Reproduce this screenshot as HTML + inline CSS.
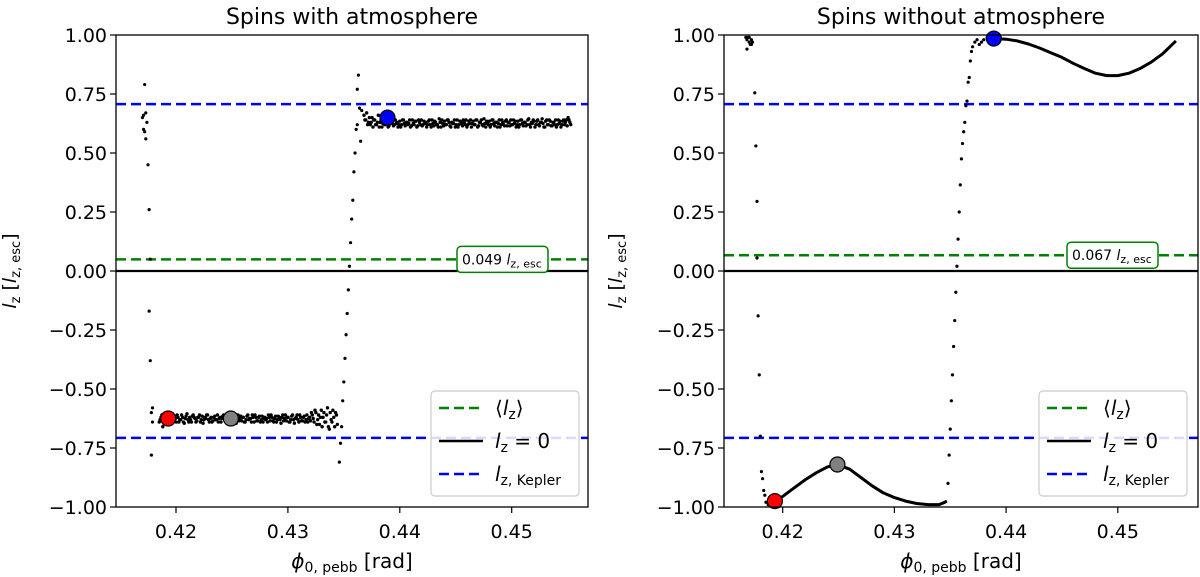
<!DOCTYPE html>
<html><head><meta charset="utf-8"><style>
html,body{margin:0;padding:0;background:#fff;}
svg{display:block;font-family:"DejaVu Sans","Liberation Sans",sans-serif;}
</style></head><body>
<svg id="chart" width="1200" height="577" viewBox="0 0 1200 577" xmlns="http://www.w3.org/2000/svg"></svg>
<script>
// ---- data ----
const xTicks = [0.42, 0.43, 0.44, 0.45];
const xTickLabels = ["0.42", "0.43", "0.44", "0.45"];
const yTicks = [1, 0.75, 0.5, 0.25, 0, -0.25, -0.5, -0.75, -1];
const yTickLabels = ["1.00", "0.75", "0.50", "0.25", "0.00", "\u22120.25", "\u22120.50", "\u22120.75", "\u22121.00"];
const keplerLevel = 0.707;
const meanLeft = 0.049;
const meanRight = 0.067;

// left panel scattered points
const sparseLeftX = [0.4172,0.4171,0.4170,0.4173,0.4171,0.4172,0.4174,0.4173,0.4175,0.4176,0.4177,0.4176,0.4177,0.4178,0.4179,0.4178,0.4179,
  0.4346,0.4347,0.4348,0.4349,0.4350,0.4351,0.4352,0.4353,0.4354,0.4355,0.4356,0.4357,0.4358,0.4359,0.4360,0.4361,0.4362,0.4363,0.4364,0.4365,0.4366,0.4362];
const sparseLeftY = [0.79,0.66,0.65,0.67,0.60,0.59,0.63,0.56,0.45,0.26,0.05,-0.17,-0.38,-0.78,-0.58,-0.60,-0.64,
  -0.81,-0.73,-0.66,-0.55,-0.47,-0.37,-0.27,-0.18,-0.08,0.02,0.12,0.22,0.30,0.42,0.50,0.60,0.77,0.83,0.69,0.55,0.68,0.62];
const bandLowStart = 0.4185, bandLowStep = 0.00016;
const bandLowY = [-0.64,-0.62,-0.66,-0.61,-0.63,-0.64,-0.62,-0.615,-0.635,-0.625,-0.61,-0.64,-0.63,-0.62,-0.645,-0.615,-0.63,-0.62,-0.64,-0.61,
  -0.625,-0.635,-0.62,-0.64,-0.615,-0.63,-0.625,-0.61,-0.64,-0.62,-0.635,-0.615,-0.63,-0.64,-0.62,-0.625,-0.61,-0.635,-0.62,-0.64,
  -0.615,-0.63,-0.62,-0.645,-0.61,-0.625,-0.635,-0.62,-0.64,-0.615,-0.63,-0.625,-0.61,-0.64,-0.62,-0.635,-0.615,-0.63,-0.64,-0.62,
  -0.625,-0.61,-0.635,-0.62,-0.64,-0.615,-0.63,-0.62,-0.645,-0.61,-0.625,-0.635,-0.62,-0.64,-0.615,-0.63,-0.625,-0.61,-0.64,-0.62,
  -0.635,-0.615,-0.63,-0.64,-0.62,-0.60,-0.625,-0.59,-0.65,-0.61,-0.62,-0.66,-0.60,-0.64,-0.58,-0.67,-0.63,-0.59,-0.66,-0.61];
const bandLowY2 = [-0.63,-0.61,-0.645,-0.625,-0.615,-0.65,-0.63,-0.605,-0.62,-0.64,-0.62,-0.63,-0.61,-0.64,-0.625,-0.605,-0.64,-0.63,-0.615,-0.62,
  -0.64,-0.62,-0.61,-0.63,-0.645,-0.62,-0.61,-0.63,-0.625,-0.64,-0.62,-0.63,-0.61,-0.625,-0.64,-0.615,-0.63,-0.62,-0.645,-0.61,
  -0.63,-0.64,-0.61,-0.625,-0.635,-0.615,-0.62,-0.64,-0.63,-0.61,-0.625,-0.64,-0.62,-0.61,-0.635,-0.62,-0.64,-0.615,-0.625,-0.63,
  -0.64,-0.62,-0.61,-0.635,-0.625,-0.64,-0.615,-0.63,-0.62,-0.635,-0.61,-0.62,-0.64,-0.63,-0.61,-0.645,-0.62,-0.63,-0.61,-0.635,
  -0.62,-0.64,-0.61,-0.625,-0.635,-0.61,-0.64,-0.60,-0.63,-0.65,-0.59,-0.62,-0.64,-0.61,-0.66,-0.60,-0.64,-0.62,-0.60,-0.65];
const bandHighStart = 0.4368, bandHighStep = 0.00016;
const bandHighY = [0.66,0.64,0.62,0.65,0.63,0.61,0.64,0.62,0.66,0.63,0.61,0.64,0.62,0.635,0.615,0.63,0.64,0.62,0.625,0.61,
  0.635,0.62,0.64,0.615,0.63,0.625,0.61,0.64,0.62,0.635,0.615,0.63,0.64,0.62,0.625,0.61,0.635,0.62,0.64,0.615,
  0.63,0.62,0.645,0.61,0.625,0.635,0.62,0.64,0.615,0.63,0.625,0.61,0.64,0.62,0.635,0.615,0.63,0.64,0.62,0.625,
  0.61,0.635,0.62,0.64,0.615,0.63,0.62,0.645,0.61,0.625,0.635,0.62,0.64,0.615,0.63,0.625,0.61,0.64,0.62,0.635,
  0.615,0.63,0.64,0.62,0.625,0.61,0.635,0.62,0.64,0.615,0.63,0.62,0.645,0.61,0.625,0.635,0.62,0.64,0.615,0.63,
  0.625,0.61,0.64,0.62,0.635,0.615,0.63,0.64,0.62,0.625,0.61,0.635,0.62,0.64,0.65,0.63];
const bandHighY2 = [0.64,0.67,0.63,0.62,0.65,0.64,0.62,0.63,0.61,0.64,0.625,0.62,0.64,0.61,0.63,0.625,0.615,0.64,0.63,0.62,
  0.61,0.64,0.625,0.63,0.62,0.64,0.615,0.625,0.635,0.61,0.64,0.62,0.615,0.635,0.63,0.62,0.64,0.61,0.625,0.635,
  0.62,0.61,0.63,0.64,0.615,0.62,0.64,0.63,0.61,0.625,0.64,0.62,0.61,0.635,0.625,0.64,0.62,0.61,0.635,0.64,
  0.625,0.62,0.64,0.61,0.63,0.64,0.615,0.625,0.635,0.62,0.61,0.64,0.625,0.63,0.61,0.64,0.62,0.63,0.615,0.64,
  0.63,0.615,0.62,0.64,0.635,0.62,0.61,0.64,0.625,0.63,0.615,0.64,0.62,0.63,0.64,0.61,0.635,0.62,0.63,0.645,
  0.61,0.635,0.62,0.64,0.615,0.63,0.62,0.61,0.64,0.635,0.62,0.64,0.63,0.615,0.64,0.62];
const markerLeftX = [0.4193, 0.4249, 0.4389];
const markerLeftY = [-0.625, -0.625, 0.65];
const markerColors = ["#ff0000", "#808080", "#0000ff"];

// right panel
const sparseRightX = [0.4167,0.4168,0.4169,0.4170,0.4171,0.4172,0.4173,0.4168,0.4170,0.4172,0.4175,0.4176,0.4177,0.4177,0.4178,0.4179,0.4180,0.4181,0.4182,0.4183,0.4184,0.4185,0.4187,
  0.4348,0.4349,0.4350,0.4351,0.4352,0.4353,0.4354,0.4355,0.4356,0.4357,0.4358,0.4359,0.4360,0.4361,0.4362,0.4363,0.4364,0.4365,0.4366,0.4367,0.4368,0.4369,0.4370,0.4372,0.4374,0.4376,0.4378,0.4380,0.4383];
const sparseRightY = [0.99,0.98,0.99,0.97,0.96,0.98,0.97,0.94,0.99,0.96,0.755,0.53,0.295,0.055,-0.19,-0.44,-0.70,-0.85,-0.88,-0.93,-0.95,-0.98,-0.99,
  -0.90,-0.78,-0.67,-0.55,-0.44,-0.32,-0.21,-0.09,0.02,0.135,0.25,0.365,0.475,0.54,0.59,0.63,0.70,0.72,0.80,0.82,0.89,0.93,0.95,0.97,0.98,0.96,0.97,0.98,0.99];
const curveLowX = [0.4193,0.4200,0.4210,0.4220,0.4230,0.4240,0.4249,0.4260,0.4270,0.4280,0.4290,0.4300,0.4310,0.4320,0.4330,0.4340,0.4345,0.4347];
const curveLowY = [-0.975,-0.955,-0.92,-0.885,-0.855,-0.83,-0.82,-0.84,-0.875,-0.91,-0.94,-0.96,-0.975,-0.985,-0.99,-0.99,-0.98,-0.975];
const curveHighX = [0.4389,0.4400,0.4410,0.4420,0.4430,0.4440,0.4450,0.4460,0.4470,0.4480,0.4490,0.4500,0.4510,0.4520,0.4530,0.4540,0.4552];
const curveHighY = [0.985,0.982,0.975,0.962,0.945,0.925,0.905,0.88,0.858,0.838,0.828,0.828,0.838,0.858,0.885,0.92,0.975];
const markerRightX = [0.4193, 0.4249, 0.4389];
const markerRightY = [-0.975, -0.82, 0.985];

// ---- drawing ----
const NS = "http://www.w3.org/2000/svg";
const svg = document.getElementById("chart");
function mk(tag, attrs, parent) {
  const e = document.createElementNS(NS, tag);
  for (const k in attrs) e.setAttribute(k, attrs[k]);
  (parent || svg).appendChild(e);
  return e;
}
const Y_TOP = 35, Y_BOT = 507;
function panel(cfg) {
  const g = mk("g", {});
  
  
  const L = cfg.left, R = cfg.right;
  const xs = v => cfg.px42 + (v - 0.42) * cfg.pxPer;
  const ys = v => Y_TOP + (1 - v) / 2 * (Y_BOT - Y_TOP);
  const cid = "clip-" + cfg.name;
  const cp = mk("clipPath", {id: cid}, g);
  mk("rect", {x: L, y: Y_TOP, width: R - L, height: Y_BOT - Y_TOP}, cp);
  const plot = mk("g", {"clip-path": "url(#" + cid + ")"}, g);
  const kp = mk("line", {x1: L, x2: R, y1: ys(keplerLevel), y2: ys(keplerLevel), stroke: "#0000ff", "stroke-width": 2.5, "stroke-dasharray": "10 5"}, plot);
  
  
  const kn = mk("line", {x1: L, x2: R, y1: ys(-keplerLevel), y2: ys(-keplerLevel), stroke: "#0000ff", "stroke-width": 2.5, "stroke-dasharray": "10 5"}, plot);
  
  
  const ml = mk("line", {x1: L, x2: R, y1: ys(cfg.mean), y2: ys(cfg.mean), stroke: "#008000", "stroke-width": 2.5, "stroke-dasharray": "10 5"}, plot);
  
  
  const zl = mk("line", {x1: L, x2: R, y1: ys(0), y2: ys(0), stroke: "#000", "stroke-width": 2.2}, plot);
  
  
  const sg = mk("g", {fill: "#000"}, plot);
  
  
  cfg.sx.forEach((x, i) => {
    const c = mk("circle", {cx: xs(x), cy: ys(cfg.sy[i]), r: 1.6}, sg);
    
    
  });
  (cfg.bands || []).forEach(b => {
    b.vals.forEach((v, i) => {
      const c = mk("circle", {cx: xs(b.start + i * b.step), cy: ys(v), r: 1.7}, sg);
      
      
    });
  });
  (cfg.curves || []).forEach(cv => {
    const d = cv.x.map((x, i) => (i ? "L" : "M") + xs(x).toFixed(1) + " " + ys(cv.y[i]).toFixed(1)).join(" ");
    const p = mk("path", {d: d, fill: "none", stroke: "#000", "stroke-width": 3, "stroke-linejoin": "round"}, plot);
    
    
  });
  cfg.mx.forEach((x, i) => {
    const c = mk("circle", {cx: xs(x), cy: ys(cfg.my[i]), r: 7.5, fill: markerColors[i], stroke: "#000", "stroke-width": 1.2}, g);
    
    
  });
  const lb = mk("g", {}, g);
  
  
  mk("rect", {x: cfg.boxX, y: ys(cfg.mean) - 13, width: 91, height: 26, rx: 4, fill: "#fff", stroke: "#008000", "stroke-width": 1.5}, lb);
  const lt = mk("text", {x: cfg.boxX + 5, y: ys(cfg.mean) + 5, "font-size": 14}, lb);
  lt.innerHTML = cfg.meanLabel + ' <tspan font-style="italic">l</tspan><tspan font-size="11" dy="3">z, esc</tspan>';
  const fr = mk("rect", {x: L, y: Y_TOP, width: R - L, height: Y_BOT - Y_TOP, fill: "none", stroke: "#000", "stroke-width": 1.3}, g);
  
  
  xTicks.forEach((t, i) => {
    mk("line", {x1: xs(t), x2: xs(t), y1: Y_BOT, y2: Y_BOT + 6, stroke: "#000", "stroke-width": 1.2}, g);
    const tx = mk("text", {x: xs(t), y: Y_BOT + 31, "font-size": 19, "text-anchor": "middle"}, g);
    tx.textContent = xTickLabels[i];
    
    
  });
  yTicks.forEach((t, i) => {
    mk("line", {x1: L - 6, x2: L, y1: ys(t), y2: ys(t), stroke: "#000", "stroke-width": 1.2}, g);
    const ty = mk("text", {x: L - 9, y: ys(t) + 7, "font-size": 19, "text-anchor": "end"}, g);
    ty.textContent = yTickLabels[i];
    
    
  });
  const ti = mk("text", {x: (L + R) / 2, y: 24, "font-size": 22, "text-anchor": "middle"}, g);
  ti.textContent = cfg.title;
  
  
  const xl = mk("text", {x: (L + R) / 2, y: 568, "font-size": 20, "text-anchor": "middle"}, g);
  xl.innerHTML = '<tspan font-style="italic">\u03d5</tspan><tspan font-size="14" dy="4">0, pebb</tspan><tspan dy="-4"> [rad]</tspan>';
  
  
  const yl = mk("text", {x: 0, y: 0, "font-size": 19, "text-anchor": "middle", transform: "translate(" + cfg.ylabX + "," + ys(0) + ") rotate(-90)"}, g);
  yl.innerHTML = '<tspan font-style="italic">l</tspan><tspan font-size="13" dy="4">z</tspan><tspan dy="-4"> [</tspan><tspan font-style="italic">l</tspan><tspan font-size="13" dy="4">z, esc</tspan><tspan dy="-4">]</tspan>';
  
  
  const lg = mk("g", {}, g);
  
  
  const lx = cfg.legX, ly = 391;
  mk("rect", {x: lx, y: ly, width: 148, height: 105, rx: 4, fill: "#fff", "fill-opacity": 0.85, stroke: "#ccc", "stroke-width": 1.2}, lg);
  const entries = [
    {c: "#008000", d: "10 5", t: '\u27e8<tspan font-style="italic">l</tspan><tspan font-size="14" dy="4">z</tspan><tspan dy="-4">\u27e9</tspan>'},
    {c: "#000", d: "none", t: '<tspan font-style="italic">l</tspan><tspan font-size="14" dy="4">z</tspan><tspan dy="-4"> = 0</tspan>'},
    {c: "#0000ff", d: "10 5", t: '<tspan font-style="italic">l</tspan><tspan font-size="14" dy="4">z, Kepler</tspan>'}
  ];
  entries.forEach((e, i) => {
    const yy = ly + 17 + i * 33;
    const eg = mk("g", {}, lg);
    
    
    mk("line", {x1: lx + 8, x2: lx + 52, y1: yy, y2: yy, stroke: e.c, "stroke-width": 2.5, "stroke-dasharray": e.d}, eg);
    const t = mk("text", {x: lx + 64, y: yy + 7, "font-size": 20}, eg);
    t.innerHTML = e.t;
  });
}
panel({name: "panel-with-atmosphere", title: "Spins with atmosphere", left: 116, right: 588, px42: 176, pxPer: 11190,
  mean: meanLeft, meanLabel: "0.049", boxX: 457, ylabX: 16, legX: 431,
  sx: sparseLeftX, sy: sparseLeftY,
  bands: [{start: bandLowStart, step: bandLowStep, vals: bandLowY}, {start: bandLowStart + bandLowStep / 2, step: bandLowStep, vals: bandLowY2},
          {start: bandHighStart, step: bandHighStep, vals: bandHighY}, {start: bandHighStart + bandHighStep / 2, step: bandHighStep, vals: bandHighY2}],
  mx: markerLeftX, my: markerLeftY});
panel({name: "panel-without-atmosphere", title: "Spins without atmosphere", left: 724, right: 1198, px42: 782.7, pxPer: 11170,
  mean: meanRight, meanLabel: "0.067", boxX: 1067, ylabX: 622, legX: 1039,
  sx: sparseRightX, sy: sparseRightY,
  curves: [{x: curveLowX, y: curveLowY}, {x: curveHighX, y: curveHighY}],
  mx: markerRightX, my: markerRightY});
</script>
</body></html>
